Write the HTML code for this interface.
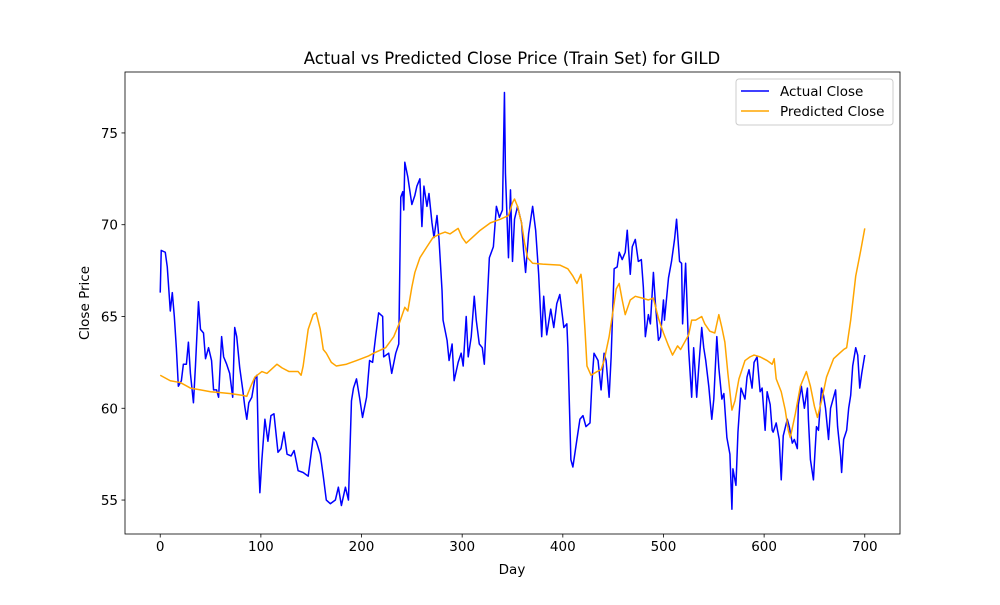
<!DOCTYPE html>
<html><head><meta charset="utf-8"><style>
body{margin:0;background:#fff;}
svg text{font-family:"DejaVu Sans","Liberation Sans",sans-serif;fill:#000;}
</style></head><body>
<svg id="chart" width="1000" height="600" xmlns="http://www.w3.org/2000/svg">
<rect x="0" y="0" width="1000" height="600" fill="#fff"/>
<text x="512" y="64" font-size="16.5" text-anchor="middle">Actual vs Predicted Close Price (Train Set) for GILD</text>
<g id="plot"></g>
<text x="512" y="574" font-size="13.5" text-anchor="middle">Day</text>
<text x="89" y="303" font-size="13.5" text-anchor="middle" transform="rotate(-90 89 303)">Close Price</text>
</svg>
<script>
const actualDays=[0,1,5,7,10,12,14,16,18,21,23,26,28,30,33,35,38,40,43,45,48,51,53,56,58,61,63,66,69,72,74,76,79,82,84,86,88,91,94,96,98,99,101,104,107,110,113,117,120,123,126,130,133,137,142,147,152,155,159,162,165,169,174,177,180,184,187,190,192,195,198,201,205,208,211,214,217,221,222,227,230,234,237,239,241,242,243,246,250,253,255,258,260,262,265,267,270,272,275,277,280,281,285,287,290,292,296,299,301,304,306,309,312,314,317,320,322,324,327,331,334,337,340,342,343,346,348,350,352,355,359,361,363,366,370,373,376,379,381,384,388,391,394,397,401,404,405,408,410,414,417,420,423,427,429,431,435,438,441,443,446,448,451,454,456,459,462,464,467,469,472,475,478,480,482,485,487,490,492,495,497,500,501,505,508,511,513,516,518,519,522,525,528,530,533,535,538,540,542,545,548,550,553,555,558,560,563,566,568,569,572,574,577,581,583,585,588,590,593,596,598,601,603,606,608,609,612,615,617,619,623,625,628,630,633,634,637,640,643,644,646,649,650,652,654,657,659,661,664,666,668,671,673,676,677,679,682,684,686,688,691,693,695,697,700];
const actualClose=[66.3,68.6,68.5,67.7,65.3,66.3,65.0,63.3,61.2,61.5,62.4,62.4,63.6,61.9,60.3,62.3,65.8,64.3,64.1,62.7,63.3,62.6,61.0,61.0,60.6,63.9,62.8,62.4,61.9,60.6,64.4,63.9,62.2,61.0,60.1,59.4,60.3,60.6,61.6,61.8,56.8,55.4,57.2,59.4,58.2,59.6,59.7,57.6,57.8,58.7,57.5,57.4,57.7,56.6,56.5,56.3,58.4,58.2,57.5,56.3,55.0,54.8,55.0,55.7,54.7,55.7,55.0,60.4,61.1,61.6,60.6,59.5,60.6,62.6,62.5,63.9,65.2,65.0,62.8,63.0,61.9,63.0,63.5,71.5,71.8,70.8,73.4,72.6,71.1,71.6,72.1,72.5,69.9,72.1,71.0,71.7,70.1,69.3,70.5,69.2,66.4,64.8,63.7,62.6,63.5,61.5,62.5,63.0,62.3,65.0,62.8,63.9,66.1,64.8,63.5,63.3,62.4,64.8,68.2,68.8,71.0,70.4,70.8,77.2,72.8,68.2,71.9,68.0,70.3,71.0,70.1,68.6,67.4,69.5,71.0,69.7,67.3,63.9,66.1,64.0,65.4,64.4,65.7,66.2,64.4,64.6,63.3,57.2,56.8,58.3,59.4,59.6,59.0,59.2,61.5,63.0,62.6,61.0,63.0,62.6,60.6,62.8,67.6,67.7,68.5,68.1,68.5,69.7,67.3,68.8,69.2,68.0,68.1,66.6,63.9,65.1,64.6,67.4,65.7,63.7,63.9,65.9,64.8,67.1,68.0,69.2,70.3,68.0,67.9,64.6,67.9,63.2,60.6,63.3,60.6,62.2,64.4,63.3,62.6,61.2,59.4,60.5,63.9,62.2,60.5,60.8,58.4,57.5,54.5,56.7,55.8,58.7,61.1,60.5,61.7,62.1,61.1,62.5,62.8,60.9,61.1,58.8,60.9,60.2,58.8,58.7,59.2,58.3,56.1,58.5,59.4,59.0,58.1,58.3,57.8,60.2,61.2,60.0,61.1,59.4,57.2,56.1,57.1,59.0,58.8,61.1,60.7,60.0,58.3,60.0,60.4,61.0,59.0,57.4,56.5,58.3,58.8,60.0,60.7,62.3,63.3,62.9,61.1,61.9,62.9];
const predDays=[0,10,20,30,40,50,60,70,82,86,90,94,101,106,116,121,128,137,140,142,147,152,155,159,162,165,170,175,185,195,207,212,224,232,238,243,246,250,253,258,265,271,278,283,288,296,300,304,310,318,328,338,346,350,352,355,359,362,365,370,380,397,405,410,414,418,419,422,424,428,434,438,441,446,450,453,456,459,462,467,472,479,485,490,495,500,505,509,514,517,521,525,528,532,538,541,546,551,555,558,561,564,568,571,575,581,586,590,596,603,608,610,612,617,621,624,626,631,636,642,646,650,653,657,662,669,675,679,682,686,691,696,700];
const predClose=[61.8,61.5,61.4,61.1,61.0,60.9,60.85,60.8,60.7,60.65,61.2,61.7,62.0,61.9,62.4,62.2,62.0,62.0,61.8,62.3,64.3,65.1,65.2,64.3,63.2,63.0,62.5,62.3,62.4,62.6,62.85,63.0,63.3,63.9,64.7,65.5,65.3,66.6,67.4,68.2,68.8,69.3,69.5,69.6,69.5,69.8,69.3,69.0,69.3,69.7,70.1,70.3,70.5,71.2,71.4,71.0,70.1,69.0,68.2,67.9,67.85,67.8,67.6,67.2,66.8,67.3,66.9,64.3,62.3,61.8,62.0,62.1,62.6,63.9,65.35,66.5,66.8,65.9,65.1,65.9,66.1,66.0,65.9,66.0,64.9,64.1,63.4,62.9,63.4,63.2,63.6,64.0,64.8,64.8,65.0,64.6,64.2,64.1,65.1,64.4,63.6,61.9,59.9,60.4,61.6,62.6,62.8,62.9,62.8,62.6,62.4,62.7,61.6,60.9,59.9,58.8,58.4,59.7,61.2,62.0,61.2,60.1,59.5,60.4,61.7,62.7,63.0,63.2,63.3,64.8,67.2,68.6,69.8];
const xTicks=[0,100,200,300,400,500,600,700];
const yTicks=[55,60,65,70,75];

const L=125,R=900,T=72,B=534;
const xMin=-35,xMax=735,yMin=53.15,yMax=78.32;
const xs=d=>L+(d-xMin)/(xMax-xMin)*(R-L);
const ys=v=>B-(v-yMin)/(yMax-yMin)*(B-T);
const NS="http://www.w3.org/2000/svg";
const g=document.getElementById('plot');
function mk(tag,attrs){const e=document.createElementNS(NS,tag);for(const k in attrs)e.setAttribute(k,attrs[k]);g.appendChild(e);return e;}

const frame=mk('rect',{x:L,y:T,width:R-L,height:B-T,fill:'none',stroke:'#000','stroke-width':0.8});



xTicks.forEach(t=>{
  const x=xs(t);
  const tk=mk('line',{x1:x,x2:x,y1:B,y2:B+3.5,stroke:'#000','stroke-width':0.8});
  
  
  const lb=mk('text',{x:x,y:B+17,'font-size':13.5,'text-anchor':'middle'});
  lb.textContent=t;
  
  
});
yTicks.forEach(t=>{
  const y=ys(t);
  const tk=mk('line',{x1:L-3.5,x2:L,y1:y,y2:y,stroke:'#000','stroke-width':0.8});
  
  
  const lb=mk('text',{x:L-7,y:y+5,'font-size':13.5,'text-anchor':'end'});
  lb.textContent=t;
  
  
});

const aLine=mk('polyline',{points:actualDays.map((d,i)=>xs(d)+','+ys(actualClose[i])).join(' '),fill:'none',stroke:'#0000ff','stroke-width':1.5,'stroke-linejoin':'round'});


const pLine=mk('polyline',{points:predDays.map((d,i)=>xs(d)+','+ys(predClose[i])).join(' '),fill:'none',stroke:'#ffa500','stroke-width':1.5,'stroke-linejoin':'round'});



const lg=mk('rect',{x:736,y:79,width:157,height:46,rx:3,fill:'#fff','fill-opacity':0.8,stroke:'#ccc','stroke-width':1});


[['Actual Close','#0000ff',91,'legend-entry-actual'],['Predicted Close','#ffa500',111,'legend-entry-predicted']].forEach(e=>{
  const ln=mk('line',{x1:741,x2:769,y1:e[2],y2:e[2],stroke:e[1],'stroke-width':1.5});
  
  
  const tx=mk('text',{x:780,y:e[2]+5,'font-size':13.5});
  tx.textContent=e[0];
  
  
});
</script>
</body></html>
